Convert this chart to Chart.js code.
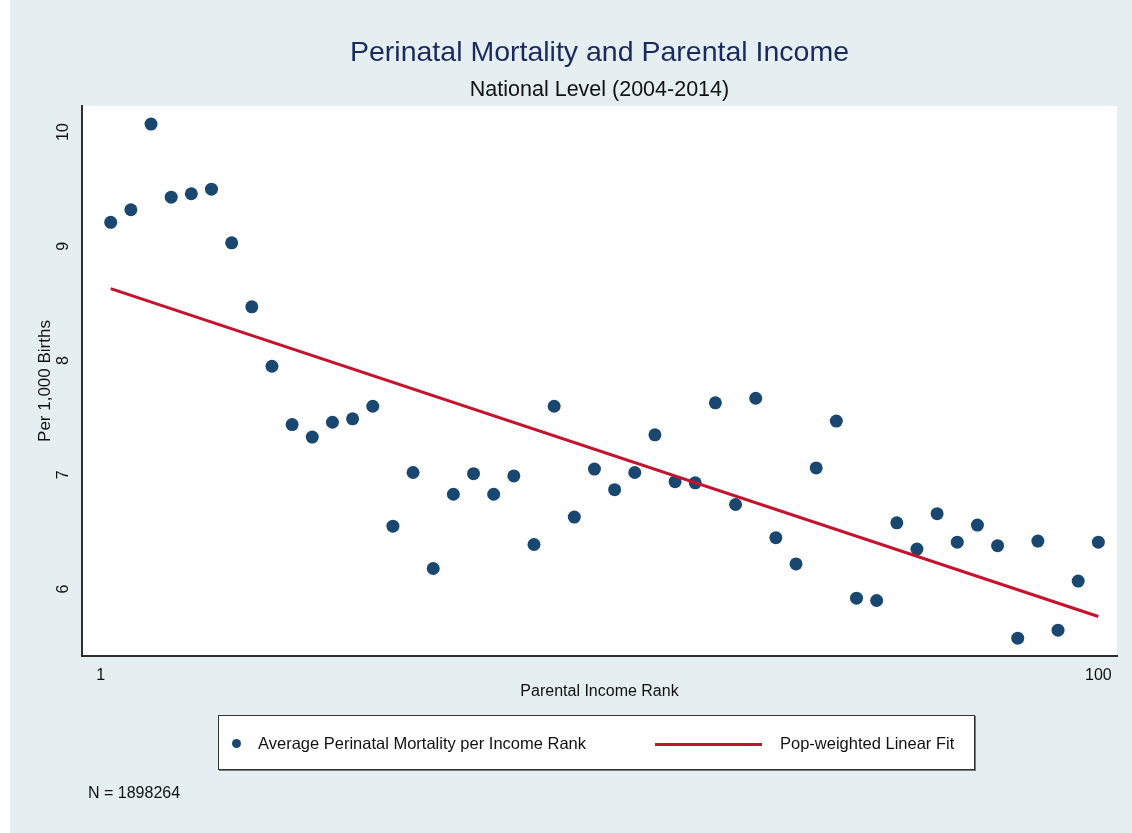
<!DOCTYPE html>
<html>
<head>
<meta charset="utf-8">
<script src="https://cdn.jsdelivr.net/npm/chart.js@4"></script>
<style>
  html, body { margin: 0; padding: 0; background: #ffffff; }
  body { width: 1132px; height: 833px; position: relative; overflow: hidden; font-family: "Liberation Sans", Arial, sans-serif; }
  #bg { position: absolute; left: 10px; top: 0; width: 1122px; height: 833px; background: #e5eef0; }
  #wrap { position: absolute; left: 0; top: 0; width: 1132px; height: 833px; }
  .title { position: absolute; left: 82px; width: 1035px; text-align: center; white-space: nowrap; }
  #t1 { top: 35px; font-size: 28.5px; color: #1b2a5c; }
  #t2 { top: 77px; font-size: 21.5px; color: #111; }
  #legend { position: absolute; left: 218px; top: 715px; width: 755px; height: 53px; background: #fff;
            border: 1px solid #333; box-shadow: 1px 1px 0 #777; }
  #legend span { position: absolute; white-space: nowrap; }
  .lab { top: 18px; font-size: 16.5px; color: #111; }
  #dot { left: 13px; top: 23px; width: 9px; height: 9px; border-radius: 50%; background: #1a476f; }
  #ln { left: 436px; top: 27px; width: 107px; height: 3px; background: #c4122f; }
  #note { position: absolute; left: 88px; top: 784px; font-size: 16px; color: #111; white-space: nowrap; }
</style>
</head>
<body>
<div id="bg"></div>
<div id="wrap"><canvas id="chart"></canvas></div>
<div class="title" id="t1">Perinatal Mortality and Parental Income</div>
<div class="title" id="t2">National Level (2004-2014)</div>
<div id="legend">
  <span id="dot"></span><span class="lab" style="left:39px">Average Perinatal Mortality per Income Rank</span>
  <span id="ln"></span><span class="lab" style="left:561px">Pop-weighted Linear Fit</span>
</div>
<div id="note">N = 1898264</div>
<script>
// income rank bins (every second percentile)
const ranks = [2, 4, 6, 8, 10, 12, 14, 16, 18, 20, 22, 24, 26, 28, 30, 32, 34, 36, 38, 40,
  42, 44, 46, 48, 50, 52, 54, 56, 58, 60, 62, 64, 66, 68, 70, 72, 74, 76, 78, 80,
  82, 84, 86, 88, 90, 92, 94, 96, 98, 100];
// average perinatal mortality per 1,000 births
const mortality = [9.21, 9.32, 10.07, 9.43, 9.46, 9.50, 9.03, 8.47, 7.95, 7.44,
  7.33, 7.46, 7.49, 7.60, 6.55, 7.02, 6.18, 6.83, 7.01, 6.83,
  6.99, 6.39, 7.60, 6.63, 7.05, 6.87, 7.02, 7.35, 6.94, 6.93,
  7.63, 6.74, 7.67, 6.45, 6.22, 7.06, 7.47, 5.92, 5.90, 6.58,
  6.35, 6.66, 6.41, 6.56, 6.38, 5.57, 6.42, 5.64, 6.07, 6.41];
// pop-weighted linear fit end points
const fitX = [2, 100];
const fitY = [8.63, 5.76];

const xTicks = [1, 100];
const yTicks = [6, 7, 8, 9, 10];

const FONT = '"Liberation Sans", Arial, sans-serif';
const AXIS = '#2e2e2e';

// white plot region + rotated y labels (stata style)
const plotDeco = {
  id: 'plotDeco',
  beforeDraw(chart) {
    const { ctx, chartArea: a } = chart;
    ctx.save();
    ctx.fillStyle = '#ffffff';
    ctx.fillRect(a.left, a.top, a.right - a.left, a.bottom - a.top);
    ctx.restore();
  },
  afterDraw(chart) {
    const { ctx } = chart;
    const y = chart.scales.y;
    ctx.save();
    ctx.fillStyle = '#111';
    ctx.font = '16px ' + FONT;
    ctx.textAlign = 'center';
    ctx.textBaseline = 'middle';
    yTicks.forEach(v => {
      ctx.save();
      ctx.translate(64, y.getPixelForValue(v));
      ctx.rotate(-Math.PI / 2);
      ctx.fillText(String(v), 0, 0);
      ctx.restore();
    });
    ctx.restore();
  },
};

new Chart(document.getElementById('chart'), {
  type: 'scatter',
  data: {
    datasets: [
      {
        type: 'line',
        label: 'Pop-weighted Linear Fit',
        data: fitX.map((x, i) => ({ x, y: fitY[i] })),
        borderColor: '#c4122f',
        borderWidth: 3,
        pointRadius: 0,
        order: 0,
      },
      {
        label: 'Average Perinatal Mortality per Income Rank',
        data: ranks.map((x, i) => ({ x, y: mortality[i] })),
        backgroundColor: '#1a476f',
        borderWidth: 0,
        pointRadius: 6.5,
        order: 1,
      },
    ],
  },
  options: {
    responsive: true,
    maintainAspectRatio: false,
    animation: false,
    layout: { padding: { top: 106, right: 15, bottom: 0, left: 0 } },
    plugins: {
      legend: { display: false },
      tooltip: { enabled: false },
    },
    scales: {
      x: {
        type: 'linear',
        min: -0.85,
        max: 101.85,
        afterBuildTicks: s => { s.ticks = xTicks.map(v => ({ value: v })); },
        afterFit: s => { s.height = 177; },
        grid: { display: false, drawTicks: false },
        border: { display: true, color: AXIS, width: 2 },
        ticks: { color: '#111', font: { family: FONT, size: 16 }, padding: 10, maxRotation: 0, autoSkip: false },
        title: { display: true, text: 'Parental Income Rank', color: '#111',
                 font: { family: FONT, size: 16 }, padding: { top: 0, bottom: 132 } },
      },
      y: {
        min: 5.414,
        max: 10.228,
        afterBuildTicks: s => { s.ticks = yTicks.map(v => ({ value: v })); },
        afterFit: s => { s.width = 82; },
        grid: { display: false, drawTicks: false },
        border: { display: true, color: AXIS, width: 2 },
        ticks: { display: false },
        title: { display: true, text: 'Per 1,000 Births', color: '#111',
                 font: { family: FONT, size: 17 }, padding: { top: 35, bottom: 0 } },
      },
    },
  },
  plugins: [plotDeco],
});
</script>
</body>
</html>
